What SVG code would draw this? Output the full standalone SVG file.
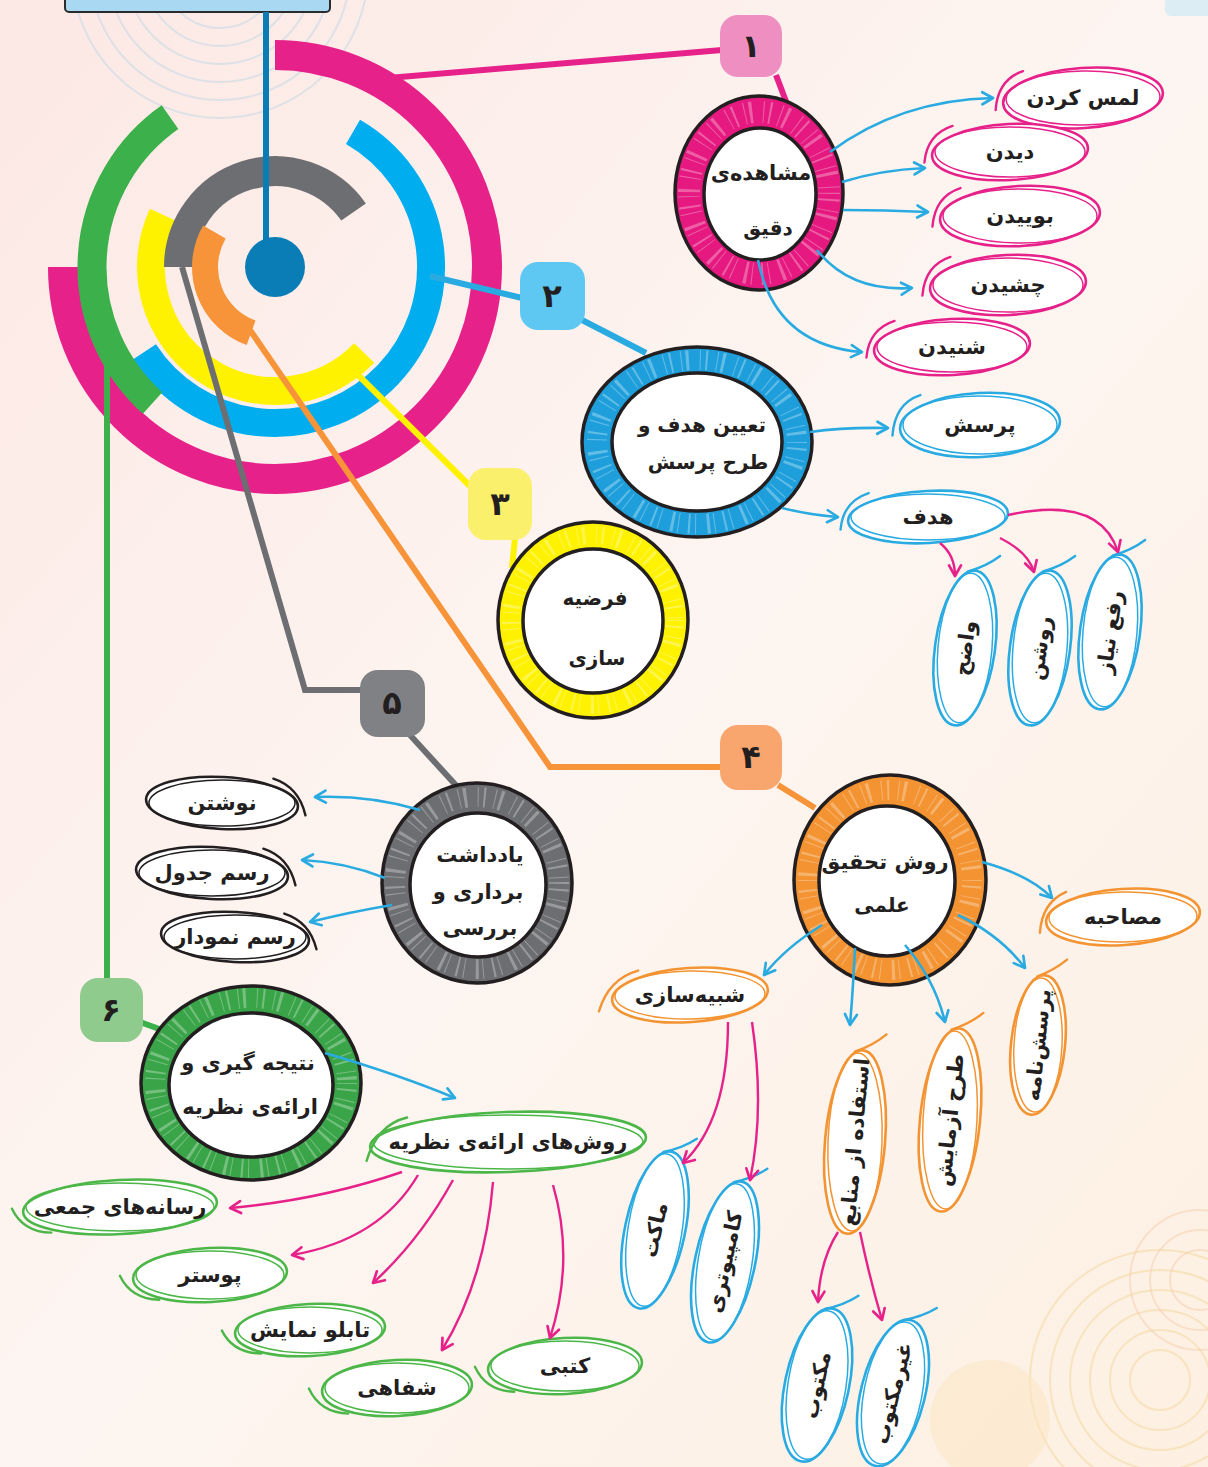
<svg xmlns="http://www.w3.org/2000/svg" width="1208" height="1467" viewBox="0 0 1208 1467">
<defs>
<linearGradient id="bg" x1="0" y1="0" x2="1" y2="1">
<stop offset="0" stop-color="#fce8e4"/>
<stop offset="0.5" stop-color="#fdf5f1"/>
<stop offset="1" stop-color="#fdf0e2"/>
</linearGradient>
<marker id="ac" viewBox="0 0 12 12" refX="10" refY="6" markerWidth="16" markerHeight="16" markerUnits="userSpaceOnUse" orient="auto"><path d="M2,1.5 L10,6 L2,10.5" fill="none" stroke="#29abe2" stroke-width="2" stroke-linecap="round" stroke-linejoin="round"/></marker>
<marker id="am" viewBox="0 0 12 12" refX="10" refY="6" markerWidth="16" markerHeight="16" markerUnits="userSpaceOnUse" orient="auto"><path d="M2,1.5 L10,6 L2,10.5" fill="none" stroke="#e6218a" stroke-width="2" stroke-linecap="round" stroke-linejoin="round"/></marker>
<style>
.t{font-family:"DejaVu Sans",sans-serif;font-weight:bold;font-size:21px;fill:#231f20;text-anchor:middle;dominant-baseline:central}
.nt{font-size:20px}
.num{font-size:32px}
.lf{fill:#fff;stroke-width:2.6}
.lf2{fill:none;stroke-width:1.5}
.tl{fill:none;stroke-width:2.4;stroke-linecap:round}
.ring{stroke:#231f20;stroke-width:3.5}
.hole{fill:#fff;stroke:#231f20;stroke-width:3.5}
.hatch{fill:none;stroke:#fff;stroke-opacity:0.3;stroke-dasharray:1 5 2 9 1 4 3 11}
.arc{fill:none;stroke-linecap:butt}
.ln{fill:none;stroke-width:6;stroke-linejoin:miter}
.ac{fill:none;stroke:#29abe2;stroke-width:2.6;marker-end:url(#ac)}
.am{fill:none;stroke:#e6218a;stroke-width:2.4;marker-end:url(#am)}
.box{stroke:none}
.sp{fill:none;stroke-width:2}
</style>
</defs>
<rect width="1208" height="1467" fill="url(#bg)"/>
<g id="background">
<g class="sp" stroke="#c5d9e6" opacity="0.55">
<circle cx="220" cy="-30" r="40"/><circle cx="220" cy="-30" r="58"/><circle cx="220" cy="-30" r="76"/><circle cx="220" cy="-30" r="94"/><circle cx="220" cy="-30" r="112"/><circle cx="220" cy="-30" r="130"/><circle cx="220" cy="-30" r="148"/>
</g>
<g class="sp" stroke="#f4d79a" opacity="0.5">
<circle cx="1160" cy="1380" r="30"/><circle cx="1160" cy="1380" r="50"/><circle cx="1160" cy="1380" r="70"/><circle cx="1160" cy="1380" r="90"/><circle cx="1160" cy="1380" r="110"/><circle cx="1160" cy="1380" r="130"/>
</g>
<g class="sp" stroke="#f6c9a8" opacity="0.45">
<circle cx="1200" cy="1280" r="30"/><circle cx="1200" cy="1280" r="50"/><circle cx="1200" cy="1280" r="70"/>
</g>
<circle cx="990" cy="1420" r="60" fill="#fbe6bf" opacity="0.5"/>
<rect x="1165" y="-10" width="60" height="26" rx="6" fill="#dcedf3"/>
</g>

<g id="title-box">
<rect x="65" y="-12" width="265" height="24" rx="4" fill="#a8d8f2" stroke="#2b2b2b" stroke-width="2"/>
</g>

<g id="center">
<path class="arc" d="M275,55 A212,212 0 1 1 63,267" stroke="#e6218a" stroke-width="30"/>
<path class="arc" d="M353,131.9 A156,156 0 1 1 144.2,352" stroke="#00aeef" stroke-width="28"/>
<path class="arc" d="M162.6,214.6 A124,124 0 0 0 364.2,353.1" stroke="#fff200" stroke-width="28"/>
<path class="arc" d="M179,267 A96,96 0 0 1 353.6,212" stroke="#6d6e71" stroke-width="30"/>
<path class="arc" d="M214.4,232 A70,70 0 0 0 251.1,332.8" stroke="#f7943a" stroke-width="26"/>
<path class="arc" d="M170,117.1 A183,183 0 0 0 152.6,403" stroke="#3cb04a" stroke-width="29"/>
</g>

<g id="connectors-main">
<path class="ln" d="M388,78 L722,50" stroke="#e6218a" stroke-width="5"/>
<path class="ln" d="M430,276 L522,298" stroke="#29abe2"/>
<path class="ln" d="M355,372 L474,490" stroke="#fff200"/>
<path class="ln" d="M182,267 L305,690 L362,690" stroke="#6d6e71" stroke-width="5"/>
<path class="ln" d="M250,330 L550,767 L722,767" stroke="#f7943a"/>
<path class="ln" d="M107,345 L107,980" stroke="#3cb04a"/>
<path class="ln" d="M266,12 L266,245" stroke="#0b7db6" stroke-width="7"/>
<path class="ln" d="M776,75 L787,104" stroke="#e6218a" stroke-width="5"/>
<path class="ln" d="M582,320 L646,353" stroke="#29abe2" stroke-width="5"/>
<path class="ln" d="M515,538 L512,568" stroke="#fff200" stroke-width="5"/>
<path class="ln" d="M778,785 L815,808" stroke="#f7943a" stroke-width="5"/>
<path class="ln" d="M410,735 L463,793" stroke="#6d6e71" stroke-width="5"/>
<path class="ln" d="M140,1022 L162,1030" stroke="#3cb04a" stroke-width="5"/>
</g>
<g id="hub"><circle cx="275" cy="267" r="30" fill="#0b7db6"/></g>

<g id="box1"><rect class="box" x="720" y="15" width="62" height="62" rx="18" fill="#ef8fc1"/><text class="t num" x="751" y="46">۱</text></g>
<g id="box2"><rect class="box" x="520" y="262" width="65" height="68" rx="18" fill="#5ec8f3"/><text class="t num" x="552" y="296">۲</text></g>
<g id="box3"><rect class="box" x="468" y="468" width="64" height="72" rx="18" fill="#fbf06c"/><text class="t num" x="500" y="504">۳</text></g>
<g id="box4"><rect class="box" x="720" y="725" width="62" height="65" rx="18" fill="#f8a66e"/><text class="t num" x="751" y="757">۴</text></g>
<g id="box5"><rect class="box" x="360" y="670" width="65" height="67" rx="18" fill="#808184"/><text class="t num" x="392" y="703">۵</text></g>
<g id="box6"><rect class="box" x="80" y="978" width="63" height="64" rx="18" fill="#8ecb8c"/><text class="t num" x="111" y="1010">۶</text></g>

<g id="node1">
<ellipse class="ring" cx="759" cy="193" rx="84" ry="97" fill="#e5197f"/>
<ellipse class="hatch" cx="759" cy="193" rx="70" ry="81" stroke-width="22"/>
<ellipse class="hole" cx="760" cy="194" rx="56" ry="66"/>
<text class="t" x="761" y="173" font-size="19">مشاهده‌ی</text>
<text class="t nt" x="768" y="228">دقیق</text>
</g>
<g id="node2">
<ellipse class="ring" cx="697" cy="442" rx="115" ry="95" fill="#1e9fdc"/>
<ellipse class="hatch" cx="697" cy="442" rx="100" ry="82" stroke-width="20"/>
<ellipse class="hole" cx="697" cy="442" rx="85" ry="69"/>
<text class="t nt" x="702" y="425">تعیین هدف و</text>
<text class="t nt" x="708" y="462">طرح پرسش</text>
</g>
<g id="node3">
<ellipse class="ring" cx="593" cy="620" rx="95" ry="98" fill="#fff200"/>
<ellipse class="hatch" cx="593" cy="620" rx="82" ry="85" stroke-width="18"/>
<ellipse class="hole" cx="593" cy="621" rx="70" ry="72"/>
<text class="t nt" x="595" y="598">فرضیه</text>
<text class="t nt" x="597" y="658">سازی</text>
</g>
<g id="node4">
<ellipse class="ring" cx="890" cy="880" rx="96" ry="105" fill="#f39331"/>
<ellipse class="hatch" cx="890" cy="880" rx="82" ry="90" stroke-width="20"/>
<ellipse class="hole" cx="887" cy="881" rx="68" ry="75"/>
<text class="t" x="885" y="862" font-size="19">روش تحقیق</text>
<text class="t nt" x="882" y="905">علمی</text>
</g>
<g id="node5">
<ellipse class="ring" cx="477" cy="883" rx="95" ry="100" fill="#6d6e71"/>
<ellipse class="hatch" cx="477" cy="883" rx="82" ry="86" stroke-width="20"/>
<ellipse class="hole" cx="478" cy="885" rx="68" ry="72"/>
<text class="t" x="480" y="855" font-size="19">یادداشت</text>
<text class="t" x="478" y="892" font-size="19">برداری و</text>
<text class="t" x="480" y="928" font-size="19">بررسی</text>
</g>
<g id="node6">
<ellipse class="ring" cx="251" cy="1083" rx="110" ry="97" fill="#3aa448"/>
<ellipse class="hatch" cx="251" cy="1083" rx="96" ry="85" stroke-width="20"/>
<ellipse class="hole" cx="251" cy="1085" rx="82" ry="72"/>
<text class="t" x="248" y="1063" font-size="18">نتیجه گیری و</text>
<text class="t" x="250" y="1107" font-size="18">ارائه‌ی نظریه</text>
</g>

<!-- pink leaves -->
<g id="leaf-lams" transform="translate(1083,98)"><g transform="rotate(-4)" stroke="#e6218a"><ellipse class="lf" rx="80" ry="30"/><ellipse class="lf2" rx="77" ry="27" transform="rotate(3)"/><path class="tl" d="M-58,-31 Q-84,-24 -88,6"/></g><text class="t">لمس کردن</text></g>
<g id="leaf-didan" transform="translate(1010,152)"><g transform="rotate(-3)" stroke="#e6218a"><ellipse class="lf" rx="78" ry="28"/><ellipse class="lf2" rx="75" ry="25" transform="rotate(3)"/><path class="tl" d="M-56,-29 Q-82,-22 -86,6"/></g><text class="t">دیدن</text></g>
<g id="leaf-booyidan" transform="translate(1020,216)"><g transform="rotate(-3)" stroke="#e6218a"><ellipse class="lf" rx="80" ry="30"/><ellipse class="lf2" rx="77" ry="27" transform="rotate(3)"/><path class="tl" d="M-58,-31 Q-84,-24 -88,6"/></g><text class="t">بوییدن</text></g>
<g id="leaf-cheshidan" transform="translate(1008,285)"><g transform="rotate(-3)" stroke="#e6218a"><ellipse class="lf" rx="78" ry="30"/><ellipse class="lf2" rx="75" ry="27" transform="rotate(3)"/><path class="tl" d="M-56,-31 Q-82,-24 -86,6"/></g><text class="t">چشیدن</text></g>
<g id="leaf-shenidan" transform="translate(952,347)"><g transform="rotate(-3)" stroke="#e6218a"><ellipse class="lf" rx="78" ry="28"/><ellipse class="lf2" rx="75" ry="25" transform="rotate(3)"/><path class="tl" d="M-56,-29 Q-82,-22 -86,6"/></g><text class="t">شنیدن</text></g>

<!-- cyan leaves -->
<g id="leaf-porsesh" transform="translate(980,425)"><g transform="rotate(-3)" stroke="#29abe2"><ellipse class="lf" rx="80" ry="32"/><ellipse class="lf2" rx="77" ry="29" transform="rotate(3)"/><path class="tl" d="M-58,-33 Q-84,-26 -88,6"/></g><text class="t">پرسش</text></g>
<g id="leaf-hadaf" transform="translate(928,517)"><g transform="rotate(-3)" stroke="#29abe2"><ellipse class="lf" rx="80" ry="26"/><ellipse class="lf2" rx="77" ry="23" transform="rotate(3)"/><path class="tl" d="M-58,-27 Q-84,-20 -88,8"/></g><text class="t">هدف</text></g>
<g id="leaf-vazeh" transform="translate(965,648)"><g transform="rotate(8)" stroke="#29abe2"><ellipse class="lf" rx="30" ry="78"/><ellipse class="lf2" rx="27" ry="75" transform="rotate(-3)"/><path class="tl" d="M-8,-76 Q10,-84 22,-96"/></g><text class="t" transform="rotate(-82)">واضح</text></g>
<g id="leaf-roshan" transform="translate(1040,648)"><g transform="rotate(8)" stroke="#29abe2"><ellipse class="lf" rx="30" ry="78"/><ellipse class="lf2" rx="27" ry="75" transform="rotate(-3)"/><path class="tl" d="M-8,-76 Q10,-84 22,-96"/></g><text class="t" transform="rotate(-82)">روشن</text></g>
<g id="leaf-rafe" transform="translate(1110,632)"><g transform="rotate(8)" stroke="#29abe2"><ellipse class="lf" rx="30" ry="78"/><ellipse class="lf2" rx="27" ry="75" transform="rotate(-3)"/><path class="tl" d="M-8,-76 Q10,-84 22,-96"/></g><text class="t" transform="rotate(-82)">رفع نیاز</text></g>

<!-- orange leaves -->
<g id="leaf-mosahebe" transform="translate(1123,917)"><g transform="rotate(-4)" stroke="#f39331"><ellipse class="lf" rx="77" ry="28"/><ellipse class="lf2" rx="74" ry="25" transform="rotate(3)"/><path class="tl" d="M-55,-29 Q-80,-20 -84,10"/></g><text class="t">مصاحبه</text></g>
<g id="leaf-porseshname" transform="translate(1038,1045)"><g transform="rotate(6)" stroke="#f39331"><ellipse class="lf" rx="27" ry="70"/><ellipse class="lf2" rx="24" ry="67" transform="rotate(-3)"/><path class="tl" d="M-8,-68 Q8,-76 20,-88"/></g><text class="t" transform="rotate(-84)">پرسش‌نامه</text></g>
<g id="leaf-tarh" transform="translate(950,1120)"><g transform="rotate(6)" stroke="#f39331"><ellipse class="lf" rx="30" ry="92"/><ellipse class="lf2" rx="27" ry="89" transform="rotate(-3)"/><path class="tl" d="M-8,-90 Q10,-98 22,-110"/></g><text class="t" transform="rotate(-84)">طرح آزمایش</text></g>
<g id="leaf-manabe" transform="translate(855,1142)"><g transform="rotate(5)" stroke="#f39331"><ellipse class="lf" rx="30" ry="92"/><ellipse class="lf2" rx="27" ry="89" transform="rotate(-3)"/><path class="tl" d="M-8,-90 Q10,-98 22,-110"/></g><text class="t" transform="rotate(-85)">استفاده از منابع</text></g>
<g id="leaf-shabih" transform="translate(690,995)"><g transform="rotate(-4)" stroke="#f39331"><ellipse class="lf" rx="78" ry="27"/><ellipse class="lf2" rx="75" ry="24" transform="rotate(3)"/><path class="tl" d="M-50,-28 Q-80,-22 -92,10"/></g><text class="t">شبیه‌سازی</text></g>

<!-- blue leaves under orange -->
<g id="leaf-maket" transform="translate(655,1230)"><g transform="rotate(12)" stroke="#29abe2"><ellipse class="lf" rx="30" ry="80"/><ellipse class="lf2" rx="27" ry="77" transform="rotate(-3)"/><path class="tl" d="M-8,-78 Q10,-86 22,-98"/></g><text class="t" transform="rotate(-78)">ماکت</text></g>
<g id="leaf-computer" transform="translate(725,1262)"><g transform="rotate(12)" stroke="#29abe2"><ellipse class="lf" rx="30" ry="82"/><ellipse class="lf2" rx="27" ry="79" transform="rotate(-3)"/><path class="tl" d="M-8,-80 Q10,-88 22,-100"/></g><text class="t" transform="rotate(-78)">کامپیوتری</text></g>
<g id="leaf-maktoob" transform="translate(817,1385)"><g transform="rotate(12)" stroke="#29abe2"><ellipse class="lf" rx="32" ry="78"/><ellipse class="lf2" rx="29" ry="75" transform="rotate(-3)"/><path class="tl" d="M-8,-76 Q10,-84 22,-96"/></g><text class="t" transform="rotate(-78)">مکتوب</text></g>
<g id="leaf-gheyr" transform="translate(893,1393)"><g transform="rotate(14)" stroke="#29abe2"><ellipse class="lf" rx="32" ry="75"/><ellipse class="lf2" rx="29" ry="72" transform="rotate(-3)"/><path class="tl" d="M-8,-73 Q10,-81 22,-93"/></g><text class="t" transform="rotate(-76)">غیرمکتوب</text></g>

<!-- black leaves -->
<g id="leaf-neveshtan" transform="translate(222,803)"><g transform="rotate(3)" stroke="#231f20"><ellipse class="lf" rx="76" ry="26"/><ellipse class="lf2" rx="73" ry="23" transform="rotate(-3)"/><path class="tl" d="M50,-27 Q76,-20 84,8"/></g><text class="t">نوشتن</text></g>
<g id="leaf-jadval" transform="translate(212,873)"><g transform="rotate(3)" stroke="#231f20"><ellipse class="lf" rx="76" ry="26"/><ellipse class="lf2" rx="73" ry="23" transform="rotate(-3)"/><path class="tl" d="M50,-27 Q76,-20 84,8"/></g><text class="t">رسم جدول</text></g>
<g id="leaf-nemoodar" transform="translate(235,937)"><g transform="rotate(3)" stroke="#231f20"><ellipse class="lf" rx="74" ry="25"/><ellipse class="lf2" rx="71" ry="22" transform="rotate(-3)"/><path class="tl" d="M48,-26 Q74,-19 82,8"/></g><text class="t">رسم نمودار</text></g>

<!-- green leaves -->
<g id="leaf-raveshha" transform="translate(508,1142)"><g transform="rotate(-2)" stroke="#4cb748"><ellipse class="lf" rx="138" ry="30"/><ellipse class="lf2" rx="135" ry="27" transform="rotate(2)"/><path class="tl" d="M-100,-28 Q-130,-22 -142,14"/></g><text class="t" font-size="22">روش‌های ارائه‌ی نظریه</text></g>
<g id="leaf-resane" transform="translate(120,1207)"><g transform="rotate(-3)" stroke="#4cb748"><ellipse class="lf" rx="97" ry="27"/><ellipse class="lf2" rx="94" ry="24" transform="rotate(3)"/><path class="tl" d="M-70,22 Q-98,20 -108,-4"/></g><text class="t">رسانه‌های جمعی</text></g>
<g id="leaf-poster" transform="translate(210,1275)"><g transform="rotate(-3)" stroke="#4cb748"><ellipse class="lf" rx="77" ry="27"/><ellipse class="lf2" rx="74" ry="24" transform="rotate(3)"/><path class="tl" d="M-52,22 Q-80,20 -90,-4"/></g><text class="t">پوستر</text></g>
<g id="leaf-tablo" transform="translate(310,1330)"><g transform="rotate(-3)" stroke="#4cb748"><ellipse class="lf" rx="75" ry="26"/><ellipse class="lf2" rx="72" ry="23" transform="rotate(3)"/><path class="tl" d="M-50,21 Q-78,19 -88,-4"/></g><text class="t">تابلو نمایش</text></g>
<g id="leaf-shafahi" transform="translate(397,1388)"><g transform="rotate(-3)" stroke="#4cb748"><ellipse class="lf" rx="75" ry="28"/><ellipse class="lf2" rx="72" ry="25" transform="rotate(3)"/><path class="tl" d="M-50,23 Q-78,21 -88,-4"/></g><text class="t">شفاهی</text></g>
<g id="leaf-katbi" transform="translate(565,1366)"><g transform="rotate(-3)" stroke="#4cb748"><ellipse class="lf" rx="77" ry="28"/><ellipse class="lf2" rx="74" ry="25" transform="rotate(3)"/><path class="tl" d="M-52,23 Q-80,21 -90,-4"/></g><text class="t">کتبی</text></g>

<g id="connectors">
<path class="ac" d="M830,152 Q900,100 993,98"/>
<path class="ac" d="M842,182 Q880,170 925,168"/>
<path class="ac" d="M843,210 Q885,210 928,212"/>
<path class="ac" d="M817,250 Q850,292 912,288"/>
<path class="ac" d="M758,260 Q775,345 862,352"/>
<path class="ac" d="M810,432 Q845,427 888,428"/>
<path class="ac" d="M782,508 Q810,515 838,517"/>
<path class="am" d="M940,543 Q955,555 955,576"/>
<path class="am" d="M1000,538 Q1028,552 1034,572"/>
<path class="am" d="M1008,515 Q1100,495 1118,552"/>
<path class="ac" d="M982,862 Q1030,875 1052,898"/>
<path class="ac" d="M958,915 Q1000,935 1025,968"/>
<path class="ac" d="M905,945 Q935,980 945,1022"/>
<path class="ac" d="M855,948 Q853,990 850,1025"/>
<path class="ac" d="M822,925 Q785,948 764,975"/>
<path class="am" d="M728,1022 Q728,1120 683,1163"/>
<path class="am" d="M752,1022 Q765,1110 750,1180"/>
<path class="am" d="M838,1232 Q820,1260 818,1302"/>
<path class="am" d="M860,1232 Q870,1280 882,1320"/>
<path class="ac" d="M420,810 Q370,795 315,797"/>
<path class="ac" d="M385,878 Q345,862 302,860"/>
<path class="ac" d="M392,905 Q350,912 310,922"/>
<path class="ac" d="M325,1053 Q400,1075 455,1098"/>
<path class="am" d="M402,1172 Q320,1200 230,1208"/>
<path class="am" d="M418,1175 Q380,1240 292,1255"/>
<path class="am" d="M453,1180 Q420,1240 373,1283"/>
<path class="am" d="M493,1182 Q485,1280 442,1350"/>
<path class="am" d="M553,1185 Q575,1260 550,1338"/>
</g>
</svg>
